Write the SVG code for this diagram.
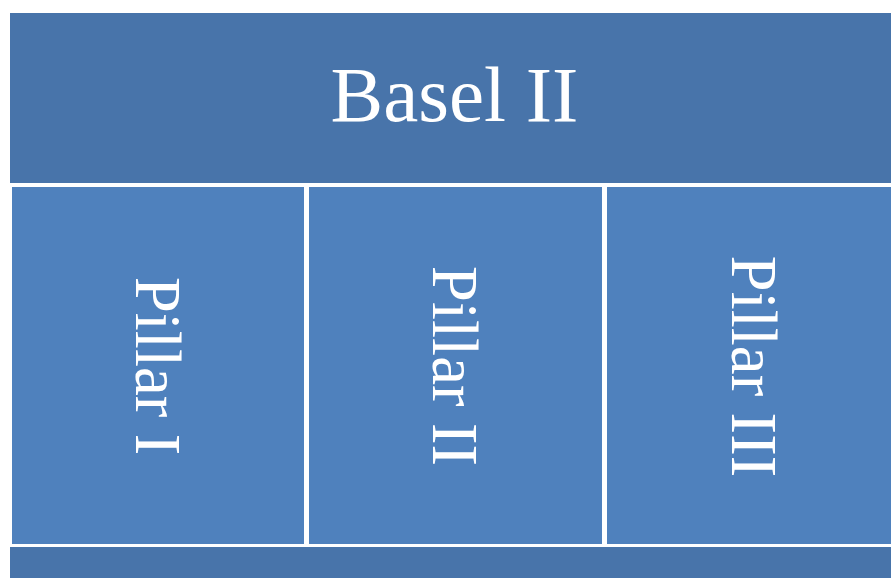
<svg xmlns="http://www.w3.org/2000/svg" width="891" height="578" viewBox="0 0 891 578">
<style>
.hdr{fill:#4874AA}
.pil{fill:#4F81BD}
.t{fill:#FFFFFF;font-family:"Liberation Serif","Times New Roman",serif;text-anchor:middle}
</style>
<rect width="891" height="578" fill="#FFFFFF"/>
<g id="basel">
<rect class="hdr" x="10" y="13" width="881" height="170"/>
<text class="t" x="454.5" y="121" font-size="79">Basel II</text>
</g>
<g id="pillar1">
<rect class="pil" x="12" y="187" width="292" height="357"/>
<text class="t" font-size="65" transform="translate(136,366) rotate(90)">Pillar I</text>
</g>
<g id="pillar2">
<rect class="pil" x="309" y="187" width="293" height="357"/>
<text class="t" font-size="65" transform="translate(433,366) rotate(90)">Pillar II</text>
</g>
<g id="pillar3">
<rect class="pil" x="607" y="187" width="284" height="357"/>
<text class="t" font-size="65" transform="translate(732,366.5) rotate(90)">Pillar III</text>
</g>
<g id="base">
<rect class="hdr" x="10" y="547" width="881" height="31"/>
</g>
<g id="connectors"/>
</svg>
